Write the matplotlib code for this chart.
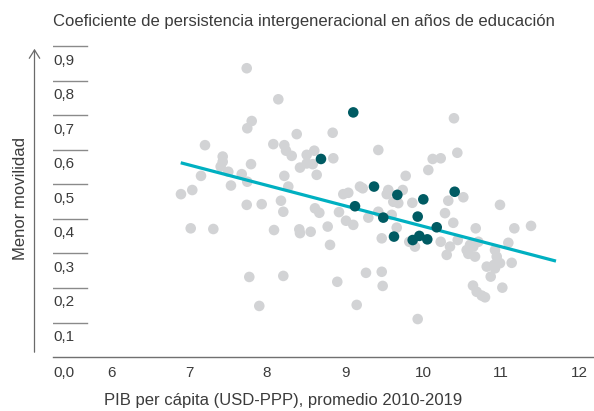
import matplotlib
matplotlib.use("Agg")
import matplotlib.pyplot as plt
import numpy as np

# ---------------- data ----------------
gray_x = [7.740, 8.145, 7.804, 7.747, 8.381, 8.842, 7.205, 8.081, 8.222, 8.244,
          8.317, 8.509, 8.606, 8.850, 7.432, 7.432, 7.406, 7.504, 7.795, 7.676,
          7.747, 7.154, 7.538, 7.042, 6.897, 8.222, 8.273, 8.423, 8.509, 8.586,
          8.637, 8.179, 7.932, 7.740, 8.978, 9.042, 9.192, 8.209, 8.615, 8.671,
          8.923, 9.013, 9.106, 7.022, 7.312, 8.090, 8.414, 8.423, 8.560, 8.778,
          8.808, 7.773, 8.209, 8.901, 7.901, 9.150,
          10.397, 9.427, 10.440, 10.124, 10.227, 10.068, 9.778, 9.227, 9.555, 9.740,
          9.535, 10.517, 10.324, 9.863, 9.619, 9.683, 10.987, 9.427, 9.299, 9.599,
          9.663, 10.282, 10.388, 10.676, 11.171, 11.385, 9.471, 9.824, 9.897, 10.227,
          10.445, 10.346, 10.603, 10.645, 10.560, 10.581, 10.667, 10.709, 10.304, 11.094,
          10.923, 10.945, 10.987, 10.910, 11.137, 10.817, 10.868, 10.923, 9.269, 9.471,
          9.483, 10.641, 10.688, 10.753, 10.795, 11.017, 9.932]
gray_y = [0.837, 0.747, 0.684, 0.663, 0.646, 0.650, 0.614, 0.617, 0.614, 0.598,
          0.583, 0.586, 0.598, 0.576, 0.581, 0.566, 0.552, 0.537, 0.559, 0.530,
          0.508, 0.525, 0.497, 0.484, 0.472, 0.525, 0.494, 0.549, 0.561, 0.559,
          0.528, 0.453, 0.443, 0.441, 0.472, 0.476, 0.494, 0.421, 0.431, 0.418,
          0.420, 0.395, 0.383, 0.373, 0.371, 0.368, 0.370, 0.359, 0.363, 0.378,
          0.325, 0.232, 0.235, 0.218, 0.148, 0.151,
          0.692, 0.600, 0.592, 0.574, 0.576, 0.542, 0.525, 0.489, 0.484, 0.484,
          0.472, 0.463, 0.453, 0.447, 0.450, 0.446, 0.441, 0.421, 0.404, 0.412,
          0.375, 0.417, 0.389, 0.373, 0.373, 0.380, 0.344, 0.334, 0.320, 0.334,
          0.339, 0.320, 0.325, 0.320, 0.310, 0.299, 0.291, 0.334, 0.296, 0.331,
          0.310, 0.291, 0.272, 0.267, 0.273, 0.262, 0.233, 0.257, 0.244, 0.247,
          0.206, 0.207, 0.189, 0.178, 0.173, 0.201, 0.110]

dark_x = [9.106, 8.692, 9.372, 9.671, 10.004, 10.406, 9.128, 9.491, 9.932, 10.176,
          9.628, 9.868, 9.953, 10.055]
dark_y = [0.709, 0.574, 0.494, 0.470, 0.457, 0.479, 0.437, 0.404, 0.407, 0.376,
          0.349, 0.339, 0.351, 0.341]

trend_x = [6.894, 11.705]
trend_y = [0.563, 0.278]

x_ticks = [6, 7, 8, 9, 10, 11, 12]
x_tick_labels = ["6", "7", "8", "9", "10", "11", "12"]
y_ticks = [0.1, 0.2, 0.3, 0.4, 0.5, 0.6, 0.7, 0.8, 0.9]
y_tick_labels = ["0,1", "0,2", "0,3", "0,4", "0,5", "0,6", "0,7", "0,8", "0,9"]

title = "Coeficiente de persistencia intergeneracional en años de educación"
xlabel = "PIB per cápita (USD-PPP), promedio 2010-2019"
ylabel = "Menor movilidad"

# ---------------- style ----------------
W, H = 594, 411
FONT = "Liberation Sans"
FS = 11
FS_LAB = 12
TXT = "#3b3b3b"
GRAY = "#d2d3d5"
DARK = "#005b63"
LINE = "#00b0c1"
AXC = "#707070"

plt.rcParams["font.family"] = [FONT, "DejaVu Sans"]

fig = plt.figure(figsize=(W / 100, H / 100), dpi=100)

def fx(px):
    return px / W

def fy(py):
    return 1 - py / H

# axes geometry in pixels
ax_l, ax_r, ax_t, ax_b = 53, 594, 40, 357
ax = fig.add_axes([fx(ax_l), fy(ax_b), fx(ax_r) - fx(ax_l), fy(ax_t) - fy(ax_b)])
ppu_x = 78.0
x0_px = 111.0
ax.set_xlim(6 + (ax_l - x0_px) / ppu_x, 6 + (ax_r - x0_px) / ppu_x)
ax.set_ylim(0, (ax_b - ax_t) / 345.0)
for s in ax.spines.values():
    s.set_visible(False)
ax.set_xticks([])
ax.set_yticks([])
ax.patch.set_alpha(0)

# points and trend
ax.scatter(gray_x, gray_y, s=58, color=GRAY, edgecolors="none", zorder=2, clip_on=False)
ax.plot(trend_x, trend_y, color=LINE, lw=2.3, solid_capstyle="butt", zorder=3)
ax.scatter(dark_x, dark_y, s=58, color=DARK, edgecolors="none", zorder=4, clip_on=False)

# x axis line
ax.axhline(0, color=AXC, lw=1.0, clip_on=False, zorder=1)

# y tick segments + labels
seg_frac = (87 - ax_l) / (ax_r - ax_l)
for v, lab in zip(y_ticks, y_tick_labels):
    ax.axhline(v, xmin=0, xmax=seg_frac, color="#8a8a8a", lw=1.0, zorder=1)
    ax.annotate(lab, xy=(0, v), xycoords=("axes fraction", "data"),
                xytext=(0.5, -13.3), textcoords="offset points",
                ha="left", va="baseline", fontsize=FS, color=TXT)
ax.annotate("0,0", xy=(0, 0), xycoords=("axes fraction", "data"),
            xytext=(0.3, -14.3), textcoords="offset points",
            ha="left", va="baseline", fontsize=FS, color=TXT)

# x tick labels
for v, lab in zip(x_ticks, x_tick_labels):
    ax.annotate(lab, xy=(v, 0), xycoords=("data", "data"),
                xytext=(0, -14.3), textcoords="offset points",
                ha="center", va="baseline", fontsize=FS, color=TXT,
                annotation_clip=False)

# title, labels
fig.text(fx(53), fy(26), title, ha="left", va="baseline", fontsize=FS_LAB, color=TXT)
fig.text(fx(283), fy(405), xlabel, ha="center", va="baseline", fontsize=FS_LAB, color=TXT)
fig.text(fx(21), fy(198), ylabel, ha="center", va="center", rotation=90,
         fontsize=FS_LAB, color=TXT)

# arrow on the left
fig.add_artist(matplotlib.patches.FancyArrowPatch(
    (fx(34.5), fy(355)), (fx(34.5), fy(46)), transform=fig.transFigure,
    arrowstyle="->,head_length=4,head_width=2.5", color="#6a6a6a", lw=0.9,
    mutation_scale=1.5))

fig.savefig("out.png", dpi=100)
